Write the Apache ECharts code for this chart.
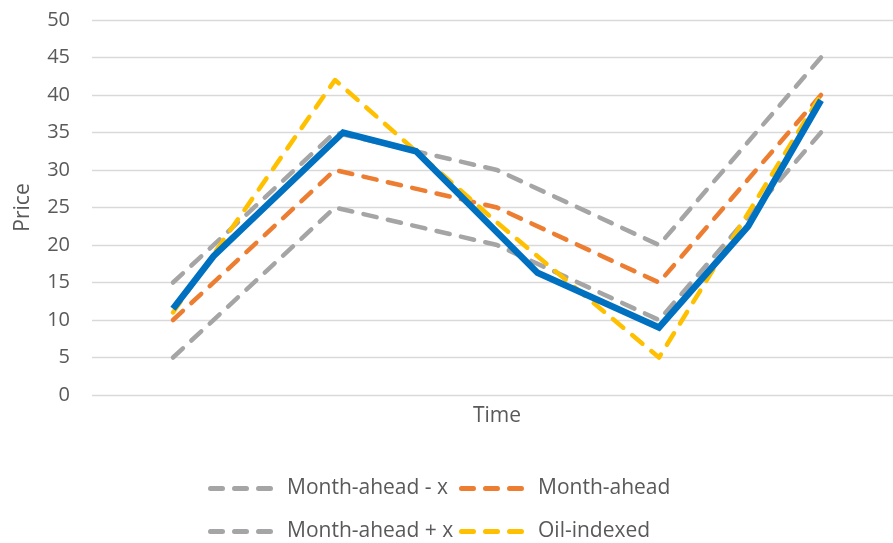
<!DOCTYPE html>
<html>
<head>
<meta charset="utf-8">
<script src="https://cdn.jsdelivr.net/npm/echarts/dist/echarts.min.js"></script>
<style>
  html, body { margin: 0; padding: 0; background: #ffffff; }
  #chart { width: 893px; height: 543px; }
</style>
</head>
<body>
<div id="chart"></div>
<script>
// Forward price bands over time (time steps 0..4)
const timeSteps = [0, 1, 2, 3, 4];
const monthAheadMinus = [5, 25, 20, 10, 35];
const monthAhead = [10, 30, 25, 15, 40];
const monthAheadPlus = [15, 35, 30, 20, 45];
const oilIndexed = [11, 42, 23, 5, 40];

// Realised price path, sampled at its own time points
const priceTimes = [0, 0.25, 1.05, 1.5, 2.25, 3, 3.55, 4];
const priceValues = [11.5, 18.5, 35, 32.5, 16.3, 9, 22.5, 39.3];

// Price axis ticks
const priceTicks = [0, 5, 10, 15, 20, 25, 30, 35, 40, 45, 50];

const seriesNames = ['Month-ahead - x', 'Month-ahead', 'Month-ahead + x', 'Oil-indexed'];
const seriesColors = ['#A5A5A5', '#ED7D31', '#A5A5A5', '#FFC000'];
const seriesValues = [monthAheadMinus, monthAhead, monthAheadPlus, oilIndexed];

const FONT = '"Open Sans", sans-serif';
const TEXT = '#595959';

// three rounded dashes used as the legend key
const dashIcon = 'path://M2.5,0h12a2.5,2.5 0 0 1 0,5h-12a2.5,2.5 0 0 1 0,-5z' +
  'M26.5,0h12a2.5,2.5 0 0 1 0,5h-12a2.5,2.5 0 0 1 0,-5z' +
  'M50.5,0h12a2.5,2.5 0 0 1 0,5h-12a2.5,2.5 0 0 1 0,-5z';

const pair = (xs, ys) => xs.map((x, i) => [x, ys[i]]);

const dashedSeries = seriesNames.map((name, i) => ({
  name: name,
  type: 'line',
  data: pair(timeSteps, seriesValues[i]),
  symbol: 'none',
  color: seriesColors[i],
  lineStyle: { width: 4.5, color: seriesColors[i], type: [13.5, 11.5], cap: 'round', join: 'round' },
  z: 2 + i,
  animation: false
}));

const legendSlots = [
  { left: 208, top: 478 },
  { left: 459, top: 478 },
  { left: 208, top: 521 },
  { left: 459, top: 521 }
];

const legends = seriesNames.map((name, i) => ({
  data: [name],
  left: legendSlots[i].left,
  top: legendSlots[i].top,
  padding: 0,
  icon: dashIcon,
  itemWidth: 65,
  itemHeight: 5,
  selectedMode: false,
  textStyle: { color: TEXT, fontFamily: FONT, fontSize: 21, padding: [0, 0, 0, 9] }
}));

const chart = echarts.init(document.getElementById('chart'), null, { renderer: 'canvas' });
chart.setOption({
  backgroundColor: '#ffffff',
  animation: false,
  grid: { left: 92, top: 20, width: 810, height: 375, containLabel: false, outerBoundsMode: 'none' },
  legend: legends,
  xAxis: {
    type: 'value',
    min: -0.5,
    max: 4.5,
    name: 'Time',
    nameLocation: 'middle',
    nameGap: 11,
    nameTextStyle: { color: TEXT, fontFamily: FONT, fontSize: 21, verticalAlign: 'top' },
    axisLine: { show: false },
    axisTick: { show: false },
    axisLabel: { show: false },
    splitLine: { show: false }
  },
  yAxis: {
    type: 'value',
    min: priceTicks[0],
    max: priceTicks[priceTicks.length - 1],
    interval: priceTicks[1] - priceTicks[0],
    name: 'Price',
    nameLocation: 'middle',
    nameRotate: 90,
    nameGap: 58,
    nameTextStyle: { color: TEXT, fontFamily: FONT, fontSize: 21 },
    axisLine: { show: false },
    axisTick: { show: false },
    axisLabel: { color: TEXT, fontFamily: FONT, fontSize: 20, margin: 22 },
    splitLine: { lineStyle: { color: '#D9D9D9', width: 1.3 } }
  },
  series: dashedSeries.concat([{
    name: 'Price',
    type: 'line',
    data: pair(priceTimes, priceValues),
    symbol: 'none',
    color: '#0070C0',
    lineStyle: { width: 6.5, color: '#0070C0', cap: 'butt', join: 'miter' },
    z: 10,
    animation: false
  }])
});
</script>
</body>
</html>
